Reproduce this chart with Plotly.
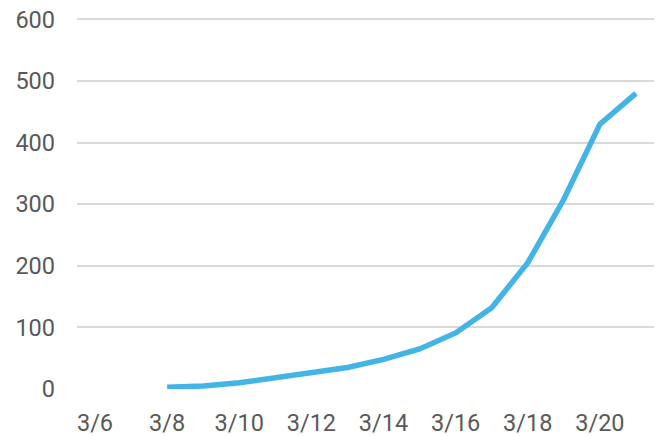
import plotly.graph_objects as go

all_dates = ["3/6", "3/7", "3/8", "3/9", "3/10", "3/11", "3/12", "3/13",
             "3/14", "3/15", "3/16", "3/17", "3/18", "3/19", "3/20", "3/21"]
dates = ["3/8", "3/9", "3/10", "3/11", "3/12", "3/13", "3/14",
         "3/15", "3/16", "3/17", "3/18", "3/19", "3/20", "3/21"]
values = [3, 5, 10, 19, 27, 35, 48, 65, 91, 132, 205, 308, 430, 480]
x_ticks = ["3/6", "3/8", "3/10", "3/12", "3/14", "3/16", "3/18", "3/20"]
y_ticks = [0, 100, 200, 300, 400, 500, 600]

fig = go.Figure()
fig.add_trace(go.Scatter(
    x=dates, y=values, mode="lines",
    line=dict(color="#42b4e6", width=5.5),
    hoverinfo="skip",
))

font = dict(family="Roboto, sans-serif", size=23.5, color="#595959")
fig.update_layout(
    width=661, height=436,
    margin=dict(l=77, r=7, t=16, b=47, autoexpand=False),
    paper_bgcolor="white", plot_bgcolor="white",
    showlegend=False,
    font=font,
)
fig.update_xaxes(
    type="category", categoryorder="array", categoryarray=all_dates,
    tickmode="array", tickvals=x_ticks, ticktext=x_ticks,
    range=[-0.5, 15.5], showgrid=False, zeroline=False, showline=False,
    ticks="", tickfont=font, ticklabelstandoff=17, automargin=False,
)
fig.update_yaxes(
    range=[0, 605.5], tickmode="array", tickvals=y_ticks,
    showgrid=True, gridcolor="#d9d9d9", gridwidth=2,
    zeroline=False, showline=False, ticks="", tickfont=font,
    ticklabelstandoff=21, automargin=False, ticklabeloverflow="allow",
)
fig.write_html(
    "out.html",
    config={"displayModeBar": False},
    post_script="document.body.style.margin='0';",
)
